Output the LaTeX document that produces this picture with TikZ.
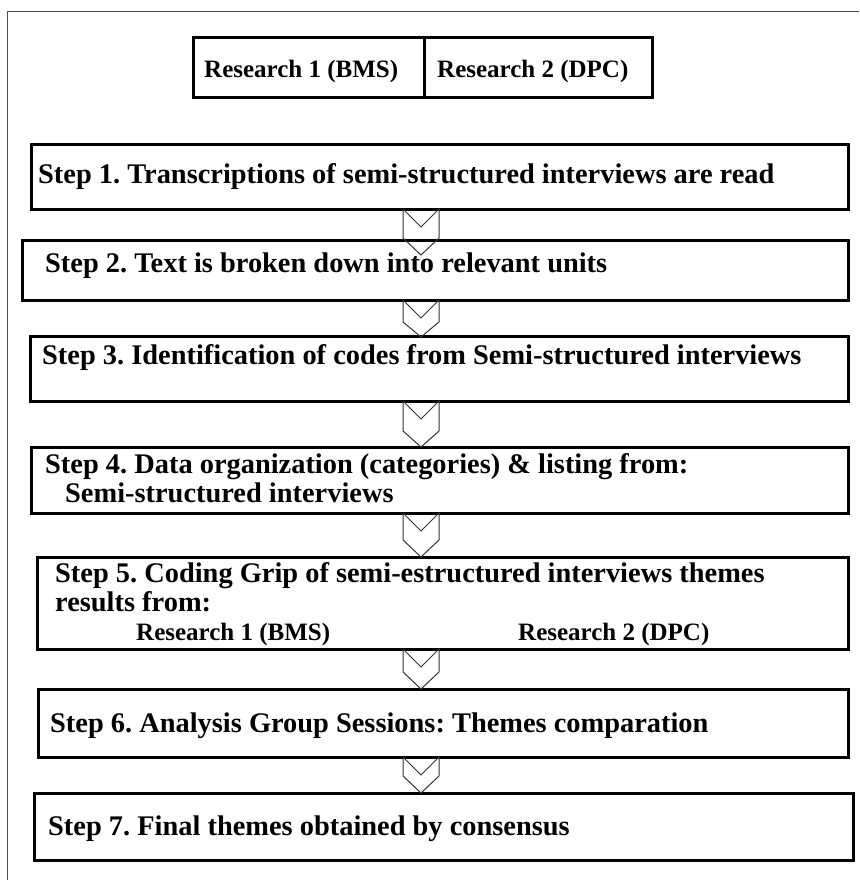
\documentclass[tikz,border=0pt]{standalone}
\usepackage{fontspec}
\setmainfont{Liberation Serif}
\frenchspacing
\begin{document}
\begin{tikzpicture}[x=1pt,y=-1pt,
  box/.style={draw=black,line width=3pt},
  frame/.style={draw=black!70,line width=1pt},
  chev/.style={draw=black!80,line width=1pt,line join=miter},
  txt/.style={anchor=base west,inner sep=0pt,font=\fontsize{28.4}{30}\selectfont\bfseries},
  rtxt/.style={anchor=base west,inner sep=0pt,font=\fontsize{25}{27}\selectfont\bfseries}]
\useasboundingbox (0,0) rectangle (859,880);
% outer frame
\draw[frame] (7,880) -- (7,12) -- (859,12);
% research boxes
\draw[box] (193,38) rectangle (424,98);
\draw[box] (424,38) rectangle (652,98);
\node[rtxt] (r1) at (204,78) {Research 1 (BMS)};
\node[rtxt] (r2) at (437,78) {Research 2 (DPC)};
% step boxes
\draw[box] (31,144) rectangle (848,209);
\draw[box] (22,240) rectangle (848,300);
\draw[box] (30,336) rectangle (848,401);
\draw[box] (31,447) rectangle (848,513);
\draw[box] (37,557) rectangle (848,649);
\draw[box] (38,689) rectangle (848,757);
\draw[box] (34,793) rectangle (853,860);
% texts
\node[txt] (t1) at (38,183) {Step 1. Transcriptions of semi-structured interviews are read};
\node[txt] (t2) at (45,272) {Step 2. Text is broken down into relevant units};
\node[txt] (t3) at (42,364) {Step 3. Identification of codes from Semi-structured interviews};
\node[txt] (t4a) at (45,473) {Step 4. Data organization (categories) \& listing from:};
\node[txt] (t4b) at (65,502) {Semi-structured interviews};
\node[txt] (t5a) at (55,582) {Step 5. Coding Grip of semi-estructured interviews themes};
\node[txt] (t5b) at (55,611) {results from:};
\node[rtxt] (t5c) at (136,640) {Research 1 (BMS)};
\node[rtxt] (t5d) at (518,640) {Research 2 (DPC)};
\node[txt] (t6) at (50,732) {Step 6. Analysis Group Sessions: Themes comparation};
\node[txt] (t7) at (48,835) {Step 7. Final themes obtained by consensus};
% chevron arrows
\newcommand{\mychev}[3]{%
  \draw[chev] (403,#1) -- (403,#2) -- (421,#3) -- (439,#2) -- (439,#1) -- (421,{#1+18}) -- cycle;}
\mychev{209}{238}{255}
\mychev{300}{322}{337}
\mychev{401}{431}{447}
\mychev{513}{540}{557}
\mychev{649}{672}{689}
\mychev{757}{776}{793}
\end{tikzpicture}
\end{document}
